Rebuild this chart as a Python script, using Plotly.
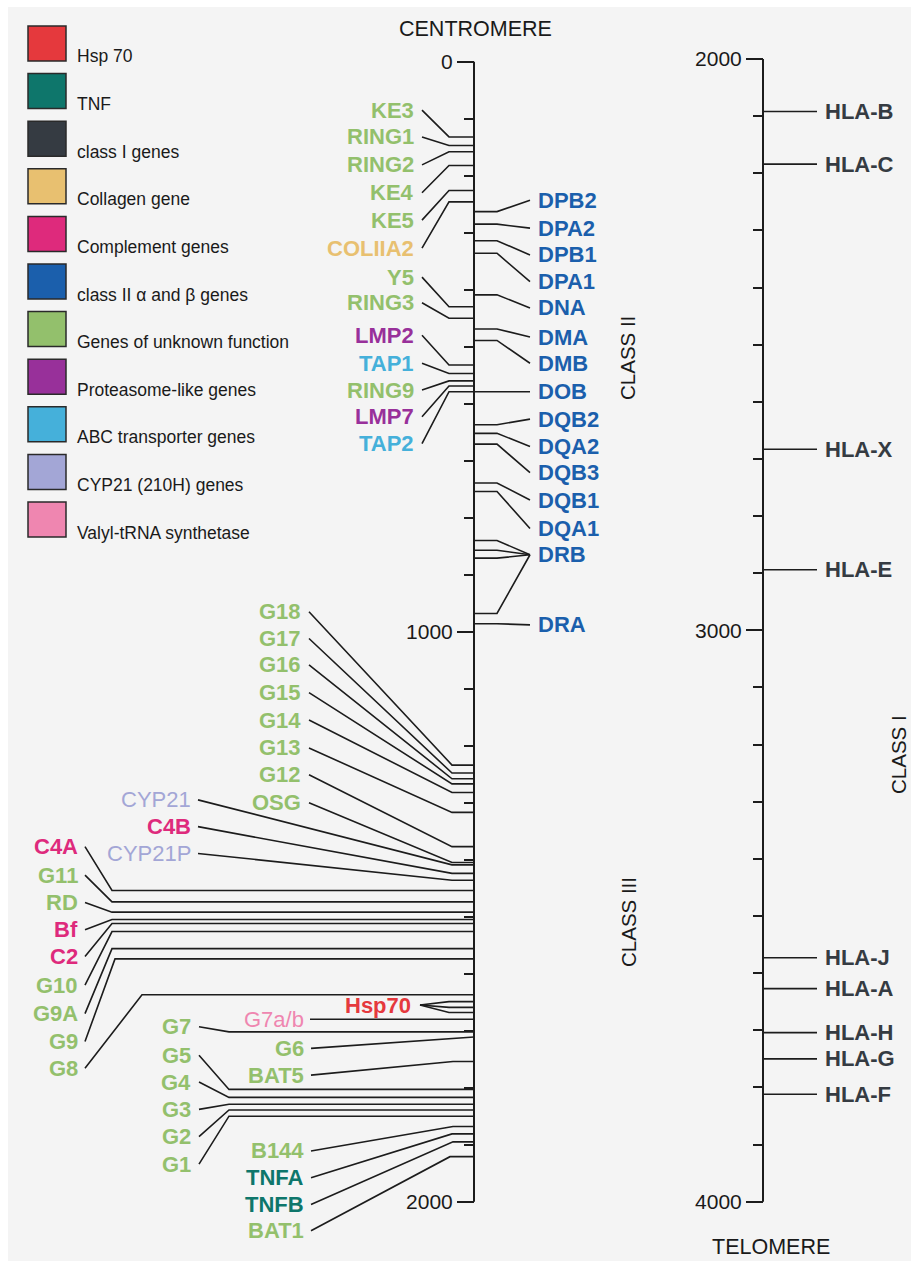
import plotly.graph_objects as go

W, H = 911, 1261

# ---------------- DATA ----------------
legend_labels = ["Hsp 70", "TNF", "class I genes", "Collagen gene", "Complement genes",
                 "class II \u03b1 and \u03b2 genes", "Genes of unknown function",
                 "Proteasome-like genes", "ABC transporter genes", "CYP21 (210H) genes",
                 "Valyl-tRNA synthetase"]
legend_keys = ["hsp", "tnf", "c1", "col", "comp", "c2", "unk", "prot", "abc", "cyp", "val"]

# Class II region, genes labelled on the left of the centromeric axis (kb)
c2l_genes = ["KE3", "RING1", "RING2", "KE4", "KE5", "COLIIA2", "Y5", "RING3",
             "LMP2", "TAP1", "RING9", "LMP7", "TAP2"]
c2l_kb = [132, 147, 158, 182, 226, 246, 430, 450, 532, 547, 560, 569, 579]
c2l_cat = ["unk", "unk", "unk", "unk", "unk", "col", "unk", "unk",
           "prot", "abc", "unk", "prot", "abc"]

# Class II region, genes labelled on the right (kb; multi-locus genes as lists)
c2r_genes = ["DPB2", "DPA2", "DPB1", "DPA1", "DNA", "DMA", "DMB", "DOB",
             "DQB2", "DQA2", "DQB3", "DQB1", "DQA1", "DRB", "DRA"]
c2r_kb = [[263], [285], [314], [336], [409], [469], [489], [579],
          [637], [652], [671], [739], [754], [840, 857, 871, 968], [986]]

# Class III region (kb)
c3a_genes = ["G18", "G17", "G16", "G15", "G14", "G13", "G12", "OSG"]
c3a_kb = [1234, 1248, 1258, 1267, 1282, 1317, 1377, 1405]
c3a_cat = ["unk"] * 8

c3b_genes = ["CYP21", "C4B", "CYP21P"]
c3b_kb = [1409, 1424, 1436]
c3b_cat = ["cyp", "comp", "cyp"]

c3c_genes = ["C4A", "G11", "RD", "Bf", "C2", "G10", "G9A", "G9", "G8"]
c3c_kb = [1454, 1474, 1492, 1505, 1512, 1526, 1556, 1574, 1637]
c3c_cat = ["comp", "unk", "unk", "comp", "comp", "unk", "unk", "unk", "unk"]

hsp_genes = ["Hsp70"]
hsp_kb = [[1649, 1659, 1668]]
hsp_cat = ["hsp"]

c3d_genes = ["G7", "G5", "G4", "G3", "G2", "G1"]
c3d_kb = [1702, 1803, 1817, 1829, 1839, 1850]
c3d_cat = ["unk"] * 6

c3e_genes = ["G7a/b", "G6", "BAT5", "B144", "TNFA", "TNFB", "BAT1"]
c3e_kb = [1680, 1711, 1754, 1868, 1881, 1895, 1921]
c3e_cat = ["val", "unk", "unk", "unk", "tnf", "tnf", "unk"]

# Class I region, telomeric axis (kb)
c1_genes = ["HLA-B", "HLA-C", "HLA-X", "HLA-E", "HLA-J", "HLA-A", "HLA-H", "HLA-G", "HLA-F"]
c1_kb = [2092, 2184, 2683, 2894, 3573, 3627, 3704, 3750, 3812]

left_ticks = [0, 1000, 2000]
left_minor = list(range(100, 2000, 100))
right_ticks = [2000, 3000, 4000]
right_minor = list(range(2100, 4000, 100))

# ---------------- LAYOUT / STYLE ----------------
colors = {"hsp": "#e5393d", "tnf": "#0e766b", "c1": "#353b42", "col": "#e8c070",
          "comp": "#de2a7c", "c2": "#1b5fac", "unk": "#93c06c", "prot": "#98309a",
          "abc": "#45b0da", "cyp": "#a3a6d6", "val": "#ef86b0"}
regular_cats = {"cyp", "val"}
FONT = "Liberation Sans, Arial, Helvetica, sans-serif"
LINE = "#1c1c1c"
LABEL_SIZE = 22

AXL = 474      # x of centromeric axis
AXR = 763      # x of telomeric axis

# label placement (kb along the same axis)
c2l_lab = [85, 132, 181, 230, 278, 327, 378, 423, 480, 529, 576, 623, 670]
c2r_lab = [243, 292, 339, 386, 432, 483, 529, 579, 627, 675, 721, 769, 819, 865, 988]
c3a_lab = [965, 1012, 1058, 1107, 1155, 1204, 1251, 1300]
c3b_lab = [1295, 1342, 1389]
c3c_lab = [1377, 1427, 1475, 1523, 1570, 1620, 1670, 1719, 1766]
c3c_elb = [112, 112, 112, 112, 112, 112, 112, 115, 142]
hsp_lab = [1655]
c3d_lab = [1693, 1743, 1790, 1838, 1886, 1934]
c3e_lab = [1680, 1731, 1778, 1911, 1958, 2005, 2051]
c3e_elb = [310, AXL, 453, 453, 452, 453, 450]

seg_x, seg_y = [], []
seg2_x, seg2_y = [], []
annotations = []


def py(px):
    return 1 - px / H


def connect(xs, ys, axis_x, gene_kb, elbow_x, end_x, label_kb):
    xs.extend([axis_x, elbow_x, end_x, None])
    ys.extend([gene_kb, gene_kb, label_kb, None])


def label(text, x, y, cat, anchor, yref="y"):
    bold = cat not in regular_cats
    annotations.append(dict(
        x=x, y=y, xref="x", yref=yref, showarrow=False, xanchor=anchor, yanchor="middle",
        text=("<b>%s</b>" % text) if bold else text,
        font=dict(family=FONT, size=LABEL_SIZE, color=colors[cat])))


def left_group(genes, kbs, cats, labs, text_right, line_x, elbows):
    for i, g in enumerate(genes):
        locs = kbs[i] if isinstance(kbs[i], list) else [kbs[i]]
        elb = elbows[i] if isinstance(elbows, list) else elbows
        for k in locs:
            connect(seg_x, seg_y, AXL, k, elb, line_x, labs[i])
        label(g, text_right, labs[i], cats[i], "right")


left_group(c2l_genes, c2l_kb, c2l_cat, c2l_lab, 416, 422, 449)
left_group(c3a_genes, c3a_kb, c3a_cat, c3a_lab, 303, 309, 452)
left_group(c3b_genes, c3b_kb, c3b_cat, c3b_lab, 193, 198, 452)
left_group(c3c_genes, c3c_kb, c3c_cat, c3c_lab, 80, 85, c3c_elb)
left_group(hsp_genes, hsp_kb, hsp_cat, hsp_lab, 413, 420, 449)
left_group(c3d_genes, c3d_kb, c3d_cat, c3d_lab, 193, 199, 229)
left_group(c3e_genes, c3e_kb, c3e_cat, c3e_lab, 306, 311, c3e_elb)

for i, g in enumerate(c2r_genes):
    for k in c2r_kb[i]:
        connect(seg_x, seg_y, AXL, k, 497, 530, c2r_lab[i])
    label(g, 536, c2r_lab[i], "c2", "left")

for g, k in zip(c1_genes, c1_kb):
    connect(seg2_x, seg2_y, AXR, k, AXR, 817, k)
    label(g, 823, k, "c1", "left", yref="y2")

fig = go.Figure()
fig.add_trace(go.Scatter(x=seg_x, y=seg_y, mode="lines", line=dict(color=LINE, width=1.6),
                         hoverinfo="skip", showlegend=False))
fig.add_trace(go.Scatter(x=seg2_x, y=seg2_y, mode="lines", yaxis="y2",
                         line=dict(color=LINE, width=1.6), hoverinfo="skip", showlegend=False))
# chromosome spines
fig.add_trace(go.Scatter(x=[AXL, AXL], y=[left_ticks[0], left_ticks[-1]], mode="lines",
                         line=dict(color=LINE, width=2), hoverinfo="skip", showlegend=False))
fig.add_trace(go.Scatter(x=[AXR, AXR], y=[right_ticks[0], right_ticks[-1]], mode="lines",
                         yaxis="y2", line=dict(color=LINE, width=2), hoverinfo="skip",
                         showlegend=False))

# legend (manual swatches)
shapes = [dict(type="rect", xref="x", yref="paper", x0=8, x1=W, y0=0, y1=py(7),
               fillcolor="#f4f4f4", line=dict(width=0), layer="below")]
for i, (lab, key) in enumerate(zip(legend_labels, legend_keys)):
    top = 26 + 47.6 * i
    shapes.append(dict(type="rect", xref="x", yref="paper", x0=28, x1=66,
                       y0=py(top + 35), y1=py(top), fillcolor=colors[key],
                       line=dict(color="#2a2a2a", width=1.5)))
    annotations.append(dict(x=75, y=py(top + 30.5), xref="x", yref="paper", showarrow=False,
                            xanchor="left", yanchor="middle", text=lab,
                            font=dict(family=FONT, size=17.5, color="#1a1a1a")))

for t, x, y, ang in [("CENTROMERE", 475, 29, 0), ("TELOMERE", 771, 1247, 0),
                     ("CLASS II", 627, 358, -90), ("CLASS III", 628, 922, -90),
                     ("CLASS I", 898, 755, -90)]:
    annotations.append(dict(x=x, y=py(y), xref="x", yref="paper", showarrow=False,
                            xanchor="center", yanchor="middle", text=t, textangle=ang,
                            font=dict(family=FONT, size=20.5 if ang else 21.5, color="#1a1a1a")))

tick_common = dict(ticks="outside", ticklen=17, tickwidth=2, tickcolor=LINE,
                   tickfont=dict(family=FONT, size=21, color="#1a1a1a"),
                   showgrid=False, zeroline=False, showline=False, anchor="free",
                   side="left", fixedrange=True)

fig.update_layout(
    width=W, height=H, margin=dict(l=0, r=0, t=0, b=0),
    paper_bgcolor="white", plot_bgcolor="white", showlegend=False,
    xaxis=dict(range=[0, W], visible=False, fixedrange=True),
    yaxis=dict(range=[(H - 61.7) / 0.57, -61.7 / 0.57], position=AXL / W,
               tickmode="array", tickvals=left_ticks,
               minor=dict(tickmode="array", tickvals=left_minor, ticks="outside",
                          ticklen=10, tickwidth=2, tickcolor=LINE),
               **tick_common),
    yaxis2=dict(range=[2000 + (H - 59) / 0.57135, 2000 - 59 / 0.57135], overlaying="y",
                position=AXR / W, tickmode="array", tickvals=right_ticks,
                minor=dict(tickmode="array", tickvals=right_minor, ticks="outside",
                           ticklen=10, tickwidth=2, tickcolor=LINE),
                **tick_common),
    shapes=shapes,
    annotations=annotations,
)

fig.write_html("out.html")
